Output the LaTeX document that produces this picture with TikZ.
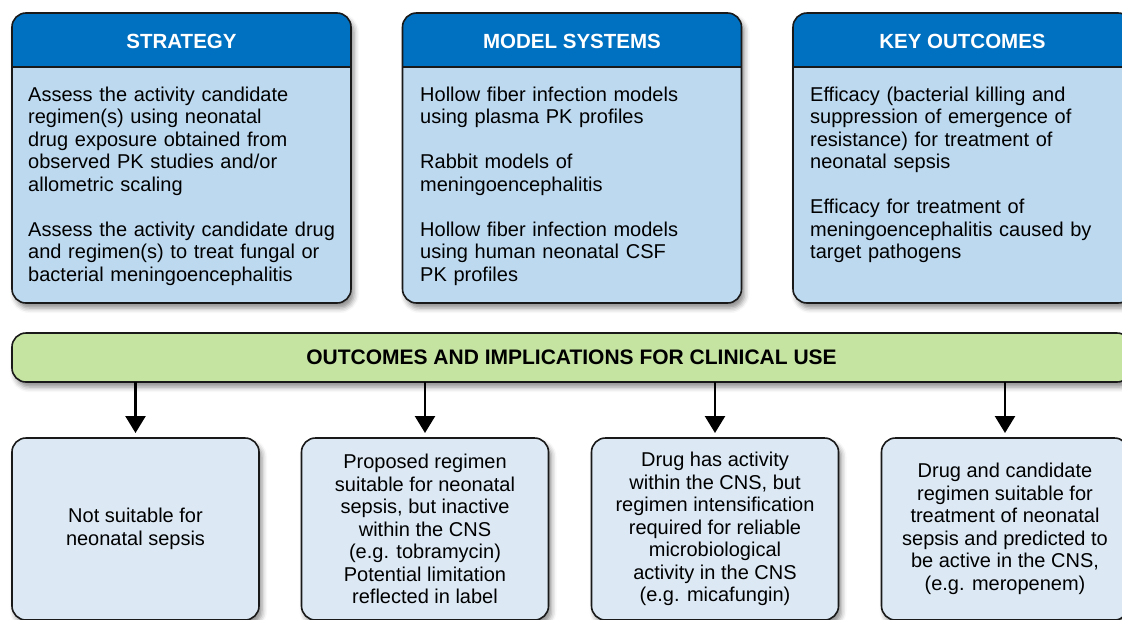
\documentclass[tikz,border=0pt]{standalone}
\usepackage{fontspec}
\setmainfont{Liberation Sans}
\usepackage{xcolor}
\usepackage{tikz}
\usetikzlibrary{positioning, calc, arrows.meta, shadows.blur}

\definecolor{headblue}{HTML}{0070C0}
\definecolor{bodyblue}{HTML}{BDD9EF}
\definecolor{outblue}{HTML}{DCE9F5}
\definecolor{bargreen}{HTML}{C5E3A1}

\tikzset{
	edge/.style={line width=1.6pt, draw=black!90},
	softshadow/.style={blur shadow={shadow xshift=3pt, shadow yshift=-5pt, shadow blur radius=5pt, shadow opacity=45}},
	topbox/.style={rectangle, rounded corners=14pt, fill=bodyblue, softshadow, minimum width=339pt, minimum height=290pt, inner sep=0pt, outer sep=0pt},
	headtext/.style={anchor=base, text=white, font=\fontsize{20.5}{24}\selectfont\bfseries},
	bodytext/.style={anchor=base west, text width=315pt, align=left, inner sep=0pt, font=\fontsize{20}{22.5}\selectfont},
	bar/.style={rectangle, rounded corners=14pt, edge, fill=bargreen, softshadow, minimum width=1119pt, minimum height=49pt, inner sep=0pt, outer sep=0pt, font=\fontsize{21}{24}\selectfont\bfseries},
	outbox/.style={rectangle, rounded corners=14pt, edge, fill=outblue, softshadow, minimum width=247pt, minimum height=182pt, align=center, inner sep=0pt, outer sep=0pt, font=\fontsize{20}{22.5}\selectfont},
	arr/.style={line width=2.4pt, -{Triangle[width=20pt, length=17pt]}, shorten >=5pt}
}

\begin{document}
\begin{tikzpicture}[x=1pt, y=-1pt]
	\useasboundingbox (0,0) rectangle (1122,619);

	% top row: header strip over a light body
	\foreach \n/\x/\t in {strat/181.5/STRATEGY, model/572/MODEL SYSTEMS, key/962.5/KEY OUTCOMES}
	{
		\node [topbox] (\n) at (\x,158) {};
		\begin{scope}
			\clip [rounded corners=14pt] (\n.south west) rectangle (\n.north east);
			\fill [headblue] (\n.north west) rectangle (\n.east |- 0,67);
		\end{scope}
		\draw [edge] (\n.west |- 0,67) -- (\n.east |- 0,67);
		\draw [edge, rounded corners=14pt] (\n.south west) rectangle (\n.north east);
		\node [headtext] (\n-head) at (\x,48) {\t};
	}

	\node [bodytext] (strat-text) at (28,101) {Assess the activity candidate\\regimen(s) using neonatal\\drug exposure obtained from\\observed PK studies and/or\\allometric scaling\\[22.5pt]Assess the activity candidate drug\\and regimen(s) to treat fungal or\\bacterial meningoencephalitis};
	\node [bodytext] (model-text) at (420,101) {Hollow fiber infection models\\using plasma PK profiles\\[22.5pt]Rabbit models of\\meningoencephalitis\\[22.5pt]Hollow fiber infection models\\using human neonatal CSF\\PK profiles};
	\node [bodytext] (key-text) at (810,101) {Efficacy (bacterial killing and\\suppression of emergence of\\resistance) for treatment of\\neonatal sepsis\\[22.5pt]Efficacy for treatment of\\meningoencephalitis caused by\\target pathogens};

	\node [bar] (bar) at (571.5,357.5) {OUTCOMES AND IMPLICATIONS FOR CLINICAL USE};

	% bottom row of outcomes
	\foreach \n/\x/\t in {
		unsuit/135.5/{Not suitable for\\neonatal sepsis},
		tobra/425/{Proposed regimen\\suitable for neonatal\\sepsis, but inactive\\within the CNS\\(e.g. tobramycin)\\Potential limitation\\reflected in label},
		mica/715/{Drug has activity\\within the CNS, but\\regimen intensification\\required for reliable\\microbiological\\activity in the CNS\\(e.g. micafungin)},
		mero/1005/{Drug and candidate\\regimen suitable for\\treatment of neonatal\\sepsis and predicted to\\be active in the CNS,\\(e.g. meropenem)}}
	{
		\node [outbox] (\n) at (\x,529) {\t};
		\draw [arr] (bar.south -| \n.north) -- (\n.north);
	}
\end{tikzpicture}
\end{document}
